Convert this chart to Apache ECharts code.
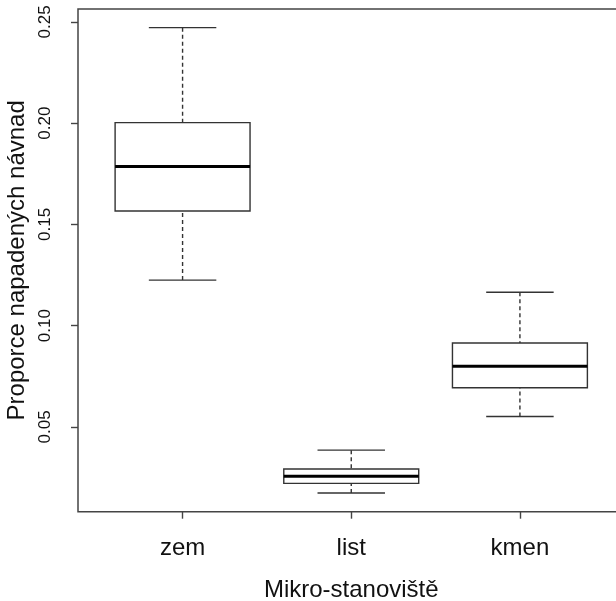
<!DOCTYPE html>
<html>
<head>
<meta charset="utf-8">
<script src="https://cdn.jsdelivr.net/npm/echarts@6/dist/echarts.min.js"></script>
<style>html,body{margin:0;padding:0;background:#fff}#c{width:616px;height:601px}</style>
</head>
<body>
<div id="c"></div>
<script>
const categories = ['zem', 'list', 'kmen'];
const whiskerLow  = [0.1225, 0.0173, 0.0551];
const q1          = [0.1566, 0.0221, 0.0693];
const median      = [0.1786, 0.0256, 0.0799];
const q3          = [0.2003, 0.0292, 0.0914];
const whiskerHigh = [0.2472, 0.0385, 0.1165];
const yTicks = [0.05, 0.10, 0.15, 0.20, 0.25];
const xTitle = 'Mikro-stanoviště';
const yTitle = 'Proporce napadených návnad';

const positions = categories.map((c, i) => i + 1);
const data = positions.map((p, i) => [p, whiskerLow[i], q1[i], median[i], q3[i], whiskerHigh[i]]);

const FONT = "'Liberation Sans', Arial, sans-serif";
const LINE = '#333';

function renderItem(params, api) {
  const x = api.value(0);
  const lo = api.value(1), a = api.value(2), m = api.value(3), b = api.value(4), hi = api.value(5);
  const halfBox = 0.4, halfCap = 0.2;
  const pLT = api.coord([x - halfBox, b]);
  const pRB = api.coord([x + halfBox, a]);
  const pc = api.coord([x, m]);
  const pL = api.coord([x - halfBox, m]);
  const pR = api.coord([x + halfBox, m]);
  const pHi = api.coord([x, hi]);
  const pLo = api.coord([x, lo]);
  const capL = api.coord([x - halfCap, hi])[0];
  const capR = api.coord([x + halfCap, hi])[0];
  const solid = { stroke: LINE, lineWidth: 1.4, fill: null };
  const dashed = { stroke: LINE, lineWidth: 1.4, lineDash: [4, 3] };
  return {
    type: 'group',
    children: [
      { type: 'line', shape: { x1: pHi[0], y1: pHi[1], x2: pHi[0], y2: pLT[1] }, style: dashed },
      { type: 'line', shape: { x1: pLo[0], y1: pLo[1], x2: pLo[0], y2: pRB[1] }, style: dashed },
      { type: 'line', shape: { x1: capL, y1: pHi[1], x2: capR, y2: pHi[1] }, style: solid },
      { type: 'line', shape: { x1: capL, y1: pLo[1], x2: capR, y2: pLo[1] }, style: solid },
      { type: 'rect', shape: { x: pLT[0], y: pLT[1], width: pRB[0] - pLT[0], height: pRB[1] - pLT[1] }, style: { stroke: LINE, lineWidth: 1.4, fill: '#fff' } },
      { type: 'line', shape: { x1: pL[0], y1: pc[1], x2: pR[0], y2: pc[1] }, style: { stroke: '#000', lineWidth: 3 } }
    ]
  };
}

const chart = echarts.init(document.getElementById('c'), null, { renderer: 'canvas' });
chart.setOption({
  animation: false,
  backgroundColor: '#fff',
  grid: { left: 78, top: 9, right: -8.5, bottom: 89.3, outerBoundsMode: 'none', containLabel: false,
    show: true, borderColor: '#444', borderWidth: 1.5, backgroundColor: 'transparent' },
  xAxis: {
    type: 'value', min: 0.38, max: 3.62,
    name: xTitle, nameLocation: 'middle', nameGap: 67,
    nameTextStyle: { fontFamily: FONT, fontSize: 24, color: '#111' },
    axisLine: { show: false },
    splitLine: { show: false },
    axisTick: { show: true, inside: false, length: 7, customValues: positions, lineStyle: { color: '#444', width: 1.4 } },
    axisLabel: { customValues: positions, margin: 25, fontFamily: FONT, fontSize: 24, color: '#111',
      formatter: v => categories[Math.round(v) - 1] || '' }
  },
  yAxis: {
    type: 'value', min: 0.0081, max: 0.2564,
    name: yTitle, nameLocation: 'middle', nameGap: 37, nameRotate: 90,
    nameTextStyle: { fontFamily: FONT, fontSize: 24, color: '#111' },
    axisLine: { show: false },
    splitLine: { show: false },
    axisTick: { show: true, inside: false, length: 7, customValues: yTicks, lineStyle: { color: '#444', width: 1.4 } },
    axisLabel: { customValues: yTicks, rotate: 90, margin: 24, fontFamily: FONT, fontSize: 17, color: '#111',
      formatter: v => v.toFixed(2) }
  },
  series: [{
    type: 'custom',
    renderItem: renderItem,
    encode: { x: 0, y: [1, 2, 3, 4, 5] },
    data: data,
    clip: false
  }]
});
</script>
</body>
</html>
